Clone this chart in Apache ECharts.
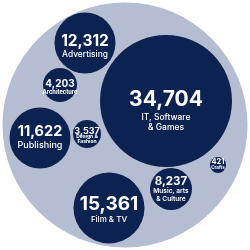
<!DOCTYPE html>
<html><head><meta charset="utf-8">
<script src="https://cdn.jsdelivr.net/npm/echarts@6/dist/echarts.min.js"></script>
<style>html,body{margin:0;padding:0;background:#fff}#c{width:250px;height:250px}</style>
</head><body><div id="c"></div>
<script>
// Data
const categories = ['IT, Software\n& Games', 'Film & TV', 'Advertising', 'Publishing', 'Music, arts\n& Culture', 'Architecture', 'Design &\nFashion', 'Crafts'];
const values = [34704, 15361, 12312, 11622, 8237, 4203, 3537, 421];

// Layout (designer packing, in chart units): centre x, centre y, radius
const layoutX = [166, 109, 85, 40, 171, 60, 87, 218];
const layoutY = [101, 208, 43, 138, 189, 85, 134, 165];
const layoutR = [66, 35.5, 30.5, 30.5, 21, 17, 14, 8];
// label layout: offsets from centre, font sizes, weights
const numDy = [-1.5, -4, -2, -6.5, -7, -1, -3, -3];
const catDy = [16, 12, 11, 7, 2, 7, 2, 3];
const numFont = [21, 19, 15.5, 14.5, 11.5, 10, 9, 7.5];
const catFont = [8.5, 8, 8.4, 9, 6.6, 5.7, 5, 4.5];
const catWeight = [500, 500, 500, 500, 600, 700, 700, 700];

const NAVY = '#0c2250';
const LIGHT = '#b4bdd1';
const FONT = 'Inter';

const chart = echarts.init(document.getElementById('c'), null, {renderer: 'canvas'});
const fmt = v => v.toLocaleString('en-US');
const bubbleData = values.map((v, i) => [layoutX[i], layoutY[i], layoutR[i], i]);

chart.setOption({
  animation: false,
  grid: {left: 0, top: 0, width: 250, height: 250},
  xAxis: {type: 'value', min: 0, max: 250, show: false},
  yAxis: {type: 'value', min: 0, max: 250, inverse: true, show: false},
  series: [
    {
      type: 'custom',
      silent: true,
      data: [[125, 125, 122.5]],
      renderItem: function (params, api) {
        const c = api.coord([api.value(0), api.value(1)]);
        const r = api.size([api.value(2), api.value(2)])[0];
        return {type: 'circle', shape: {cx: c[0], cy: c[1], r: r}, style: {fill: LIGHT}};
      }
    },
    {
      type: 'custom',
      silent: true,
      data: bubbleData,
      renderItem: function (params, api) {
        const i = api.value(3);
        const c = api.coord([api.value(0), api.value(1)]);
        const r = api.size([api.value(2), api.value(2)])[0];
        const cf = catFont[i];
        const lh = cf * 1.18;
        const lines = categories[i].split('\n');
        return {
          type: 'group',
          children: [
            {type: 'circle', shape: {cx: c[0], cy: c[1], r: r}, style: {fill: NAVY}},
            {
              type: 'text', x: c[0], y: c[1] + numDy[i],
              style: {
                text: fmt(values[i]), align: 'center', verticalAlign: 'middle', fill: '#fff',
                fontFamily: FONT, fontWeight: 'bold', fontSize: numFont[i]
              }
            },
            {
              type: 'text', x: c[0], y: c[1] + catDy[i] - lh / 2,
              style: {
                text: lines.join('\n'), align: 'center', verticalAlign: 'top', fill: '#fff',
                fontFamily: FONT, fontWeight: catWeight[i], fontSize: cf, lineHeight: lh
              }
            }
          ]
        };
      }
    }
  ]
});
</script>
</body></html>
